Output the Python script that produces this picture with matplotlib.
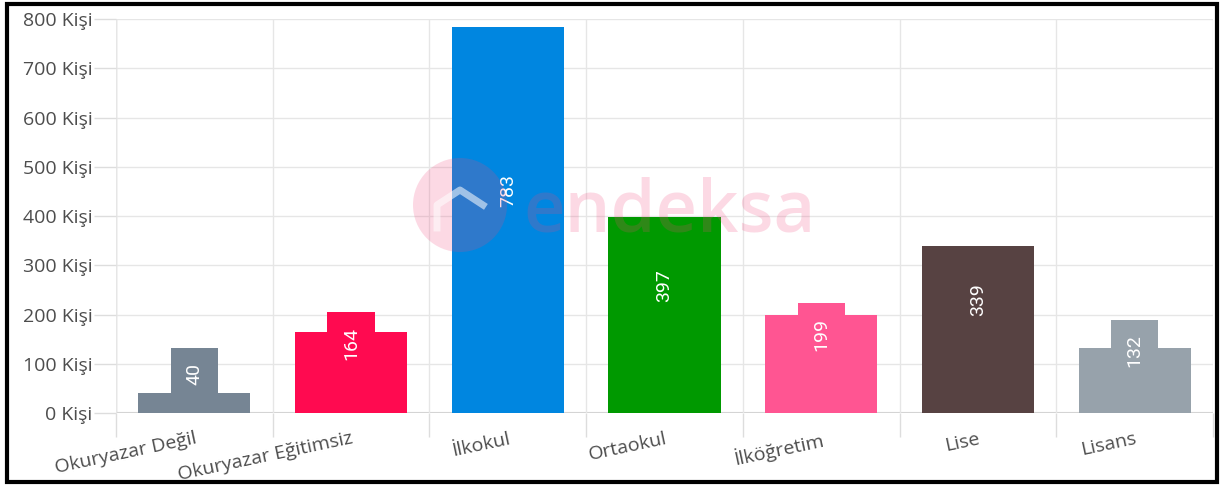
import matplotlib
matplotlib.use('Agg')
import matplotlib.pyplot as plt
from matplotlib.patches import Rectangle, Ellipse
from matplotlib.lines import Line2D

# veriler
categories = ['Okuryazar Değil', 'Okuryazar Eğitimsiz', 'İlkokul', 'Ortaokul',
              'İlköğretim', 'Lise', 'Lisans']
values = [40, 164, 783, 397, 199, 339, 132]
colors = ['#768594', '#ff0a50', '#0086e0', '#009900', '#ff5592', '#574242', '#97a2ab']
yticks = [0, 100, 200, 300, 400, 500, 600, 700, 800]

plt.rcParams['font.family'] = ['Open Sans', 'DejaVu Sans']

fig = plt.figure(figsize=(12.23, 4.86), dpi=100)
ax = fig.add_axes([116/1223, 1 - 413/486, 1097/1223, 394/486])

x = list(range(len(categories)))
ax.bar(x, values, width=0.715, color=colors, zorder=2)

# etiketler (döndürülmüş, kutulu)
for i, v in enumerate(values):
    ax.text(i, v / 2 + 60, str(v), rotation=90, ha='center', va='center',
            color='white', fontsize=14, family='Roboto', zorder=3,
            bbox=dict(boxstyle='square,pad=0.75', fc=colors[i], ec='none'))

ax.set_xlim(-0.5, len(categories) - 0.5)
ax.set_ylim(0, 800)
ax.set_yticks(yticks)
ax.set_yticklabels([f'{t} Kişi' for t in yticks], fontsize=14, color='#4d4d4d')
ax.set_xticks(x)
ax.set_xticklabels(categories, rotation=12, ha='right', fontsize=14,
                   color='#4d4d4d', rotation_mode='anchor')
ax.set_xticks([i - 0.5 for i in range(len(categories) + 1)], minor=True)
ax.tick_params(axis='x', which='major', length=0, pad=12)
ax.tick_params(axis='x', which='minor', length=17, color='#dddddd', width=1)
ax.tick_params(axis='y', length=16, color='#dddddd', width=1, pad=1)
ax.grid(axis='y', color='#e6e6e6', lw=1, zorder=0)
ax.grid(axis='x', which='minor', color='#e6e6e6', lw=1, zorder=0)
for s in ax.spines.values():
    s.set_visible(False)
ax.axhline(0, color='#d0d0d0', lw=1.5, zorder=1)
ax.axvline(-0.5, color='#cccccc', lw=1, zorder=1)

# filigran
pink = '#f0457a'
fig.patches.append(Ellipse((460/1223, 1 - 205/486), 94/1223, 94/486,
                           transform=fig.transFigure, fc=pink, ec='none',
                           alpha=0.2, zorder=5))
fig.lines.append(Line2D([437/1223, 437/1223, 460/1223, 483/1223],
                        [1 - 228/486, 1 - 205/486, 1 - 190/486, 1 - 205/486],
                        transform=fig.transFigure, color='white', lw=5,
                        alpha=0.55, zorder=6))
fig.text(670/1223, 1 - 231/486, 'endeksa', ha='center', va='baseline',
         fontsize=52, color=pink, alpha=0.2, family='Open Sans',
         fontweight='semibold', zorder=5)

# çerçeve
fig.patches.append(Rectangle((7/1223, 4/486), 1210/1223, 478/486,
                             transform=fig.transFigure, fill=False,
                             ec='black', lw=3, zorder=10))

fig.savefig('out.png', dpi=100)
